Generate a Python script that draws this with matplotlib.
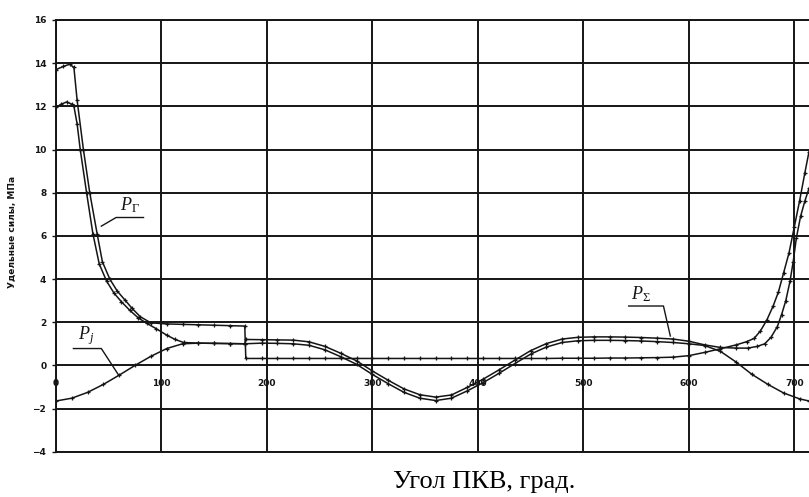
import matplotlib
matplotlib.use("Agg")
import matplotlib.pyplot as plt

plt.rcParams['mathtext.fontset'] = 'custom'
plt.rcParams['mathtext.rm'] = 'Liberation Serif'
plt.rcParams['mathtext.it'] = 'Liberation Serif:italic'

# ---- data ----
# gas force P_г
xg = [0, 7, 13, 17, 20, 26, 32, 39, 44, 51, 58, 65, 72, 80, 90, 105, 120, 135, 150, 165, 179,
      180, 195, 210, 225, 240, 255, 270, 285, 300, 315, 330, 345, 360, 375, 390, 405, 420, 435,
      450, 465, 480, 495, 510, 525, 540, 555, 570, 585, 600, 615, 630, 645, 655, 662, 668, 674,
      680, 685, 690, 695, 700, 705, 710, 714]
yg = [13.7, 13.85, 13.95, 13.8, 12.3, 10.0, 8.0, 6.1, 4.8, 4.0, 3.45, 3.05, 2.65, 2.25, 1.97,
      1.92, 1.9, 1.88, 1.86, 1.84, 1.82,
      0.32, 0.32, 0.32, 0.32, 0.32, 0.32, 0.32, 0.32, 0.32, 0.32, 0.32, 0.32, 0.32, 0.32, 0.32,
      0.32, 0.32, 0.32, 0.32, 0.32, 0.33, 0.33, 0.33, 0.34, 0.34, 0.35, 0.36, 0.38, 0.45, 0.6,
      0.77, 0.95, 1.1, 1.25, 1.6, 2.1, 2.75, 3.4, 4.3, 5.2, 6.4, 7.6, 8.9, 9.9]

# inertia force P_j
xj = [0, 15, 30, 45, 60, 75, 90, 105, 120, 135, 150, 165, 179, 195, 210, 225, 240, 255, 270,
      285, 300, 315, 330, 345, 360, 375, 390, 405, 420, 435, 450, 465, 480, 495, 510, 525, 540,
      555, 570, 585, 600, 615, 630, 645, 660, 675, 690, 705, 714]
yj = [-1.65, -1.52, -1.25, -0.88, -0.45, 0.0, 0.42, 0.78, 1.0, 1.03, 1.02, 1.01, 1.0, 1.03,
      1.02, 1.0, 0.93, 0.72, 0.4, 0.05, -0.42, -0.85, -1.25, -1.52, -1.63, -1.52, -1.18, -0.8,
      -0.37, 0.08, 0.52, 0.85, 1.06, 1.14, 1.16, 1.16, 1.15, 1.13, 1.1, 1.06, 1.0, 0.92, 0.65,
      0.15, -0.42, -0.88, -1.28, -1.55, -1.65]

# total force P_Σ
xs = [0, 5, 10, 15, 17, 20, 23, 29, 35, 41, 48, 55, 62, 70, 78, 86, 95, 105, 113, 121, 135,
      150, 165, 179, 180, 195, 210, 225, 240, 255, 270, 285, 300, 315, 330, 345, 360, 375, 390,
      405, 420, 435, 450, 465, 480, 495, 510, 525, 540, 555, 570, 585, 600, 615, 630, 645, 656,
      665, 672, 678, 684, 688, 692, 696, 699, 702, 706, 710, 714]
ys = [11.95, 12.1, 12.2, 12.1, 12.0, 11.2, 10.0, 8.0, 6.1, 4.7, 3.9, 3.35, 2.95, 2.55, 2.2,
      1.95, 1.7, 1.4, 1.2, 1.06, 1.03, 1.02, 1.01, 1.0, 1.2, 1.19, 1.18, 1.17, 1.09, 0.88, 0.56,
      0.21, -0.26, -0.69, -1.09, -1.36, -1.47, -1.37, -1.02, -0.64, -0.21, 0.24, 0.68, 1.01,
      1.22, 1.3, 1.32, 1.32, 1.31, 1.29, 1.26, 1.22, 1.12, 0.95, 0.83, 0.8, 0.8, 0.88, 1.0, 1.3,
      1.8, 2.35, 3.0, 3.9, 4.8, 5.9, 6.9, 7.6, 8.2]

xticks = [0, 100, 200, 300, 400, 500, 600, 700]
yticks = [-4, -2, 0, 2, 4, 6, 8, 10, 12, 14, 16]

# ---- figure ----
fig = plt.figure(figsize=(8.09, 4.97), dpi=100)
ax = fig.add_axes([0.0692, 0.0911, 0.9308, 0.8687])
ax.set_xlim(0, 714)
ax.set_ylim(-4, 16)

ink = '#151515'
ax.set_xticks(xticks)
ax.set_yticks(yticks)
ax.grid(True, color=ink, lw=1.4)
ax.set_axisbelow(True)
for s in ['left', 'top', 'bottom']:
    ax.spines[s].set_color(ink)
    ax.spines[s].set_linewidth(1.4)
ax.spines['right'].set_visible(False)

ax.tick_params(axis='x', length=0, labelbottom=False)
ax.tick_params(axis='y', direction='out', length=3, width=1, color=ink, pad=4,
               labelsize=6.5, labelcolor=ink)
for lab in ax.get_yticklabels():
    lab.set_fontweight('bold')

sec = ax.secondary_xaxis(0.2)
sec.set_xticks(xticks)
sec.spines['bottom'].set_visible(False)
sec.tick_params(axis='x', length=0, pad=10, labelsize=6.5, labelcolor=ink)
for lab in sec.get_xticklabels():
    lab.set_fontweight('bold')

mk = dict(color=ink, lw=1.1, marker='+', ms=3.5, mew=0.9, zorder=3)
ax.plot(xg, yg, **mk)
ax.plot(xj, yj, **mk)
ax.plot(xs, ys, **mk)

ax.set_ylabel('Удельные силы, МПа', fontsize=6.5, fontweight='bold', color=ink)
ax.yaxis.set_label_coords(-0.052, 0.51)

fig.text(0.598, 0.018, 'Угол ПКВ, град.', family='Liberation Serif', fontsize=19,
         ha='center', va='baseline', color='black')

# annotations (leader lines + labels)
lk = dict(color=ink, lw=1.0, zorder=4)
ax.plot([43, 57, 83], [6.45, 6.85, 6.85], **lk)
ax.text(61, 6.95, r'$P_\mathrm{Г}$', fontsize=13, color=ink, ha='left', va='bottom')
ax.plot([16.5, 43, 59], [0.78, 0.78, -0.42], **lk)
ax.text(21, 0.85, r'$P_j$', fontsize=13, color=ink, ha='left', va='bottom')
ax.plot([543, 576, 582.5], [2.75, 2.75, 1.36], **lk)
ax.text(545, 2.82, r'$P_\Sigma$', fontsize=13, color=ink, ha='left', va='bottom')

fig.savefig('out.png', dpi=100)
